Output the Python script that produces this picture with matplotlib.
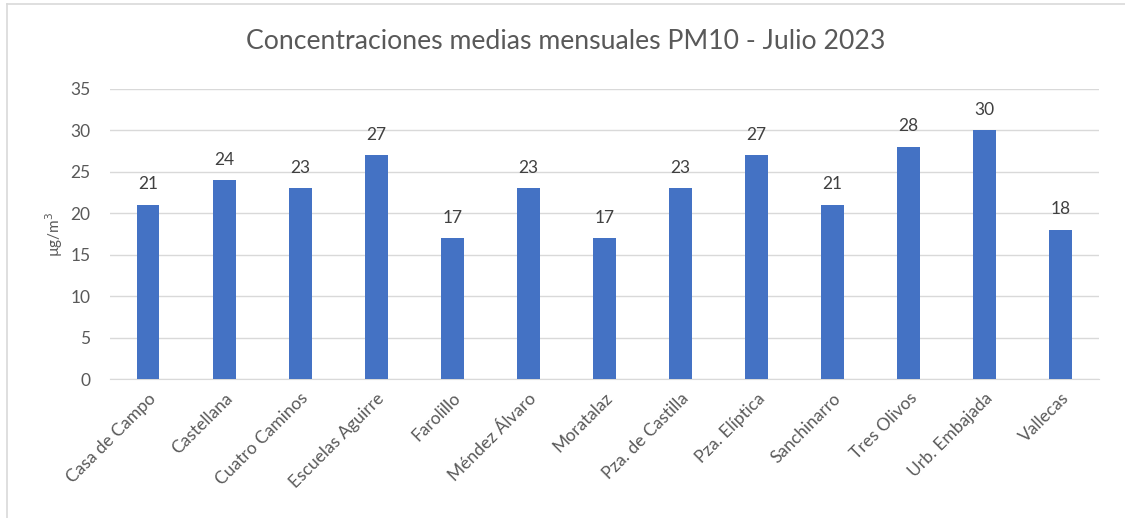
import numpy as np
import matplotlib.pyplot as plt
from matplotlib.lines import Line2D

estaciones = ['Casa de Campo', 'Castellana', 'Cuatro Caminos', 'Escuelas Aguirre',
              'Farolillo', 'Méndez Álvaro', 'Moratalaz', 'Pza. de Castilla',
              'Pza. Elíptica', 'Sanchinarro', 'Tres Olivos', 'Urb. Embajada', 'Vallecas']
pm10 = [21, 24, 23, 27, 17, 23, 17, 23, 27, 21, 28, 30, 18]
y_ticks = [0, 5, 10, 15, 20, 25, 30, 35]

plt.rcParams['font.family'] = ['Lato', 'DejaVu Sans']

fig = plt.figure(figsize=(11.25, 5.18), dpi=100)
ax = fig.add_axes([0.0978, 0.2683, 0.879, 0.56])

x = np.arange(len(estaciones))
bars = ax.bar(x, pm10, width=0.3, color='#4472C4', zorder=3)
for b, v in zip(bars, pm10):
    ax.annotate(str(v), (b.get_x() + b.get_width() / 2, v), xytext=(0, 9),
                textcoords='offset points', ha='center', va='bottom',
                fontsize=12.5, color='#404040')

ax.set_xlim(-0.5, len(estaciones) - 0.5)
ax.set_ylim(0, 35)
ax.set_yticks(y_ticks)
ax.grid(axis='y', color='#D9D9D9', linewidth=1, zorder=0)
for s in ['top', 'right', 'left']:
    ax.spines[s].set_visible(False)
ax.spines['bottom'].set_color('#D9D9D9')
ax.tick_params(axis='both', length=0, labelsize=12.5, labelcolor='#595959')
ax.tick_params(axis='y', pad=14)
ax.set_xticks(x)
ax.set_xticklabels(estaciones, rotation=45, ha='right', va='top', rotation_mode='anchor')
ax.tick_params(axis='x', pad=8)
ax.set_ylabel('µg/m$^3$', fontsize=11, color='#595959', labelpad=4)

fig.text(0.503, 0.92, 'Concentraciones medias mensuales PM10 - Julio 2023',
         ha='center', va='center', fontsize=19.2, color='#595959')

# chart border (left and top)
fig.add_artist(Line2D([0.0062, 0.0062], [0, 0.992], transform=fig.transFigure,
                      color='#D9D9D9', linewidth=1.2))
fig.add_artist(Line2D([0.0062, 1], [0.992, 0.992], transform=fig.transFigure,
                      color='#D9D9D9', linewidth=1.2))

fig.savefig('out.png', dpi=100)
